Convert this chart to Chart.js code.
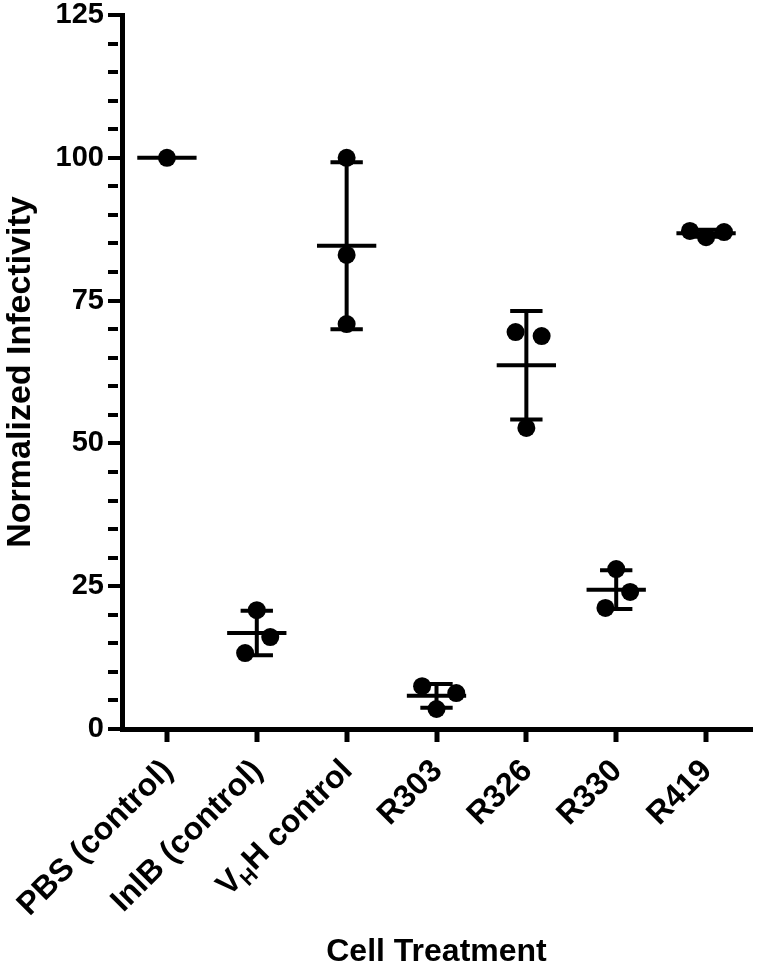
<!DOCTYPE html>
<html lang="en">
<head>
<meta charset="UTF-8">
<title>Normalized Infectivity by Cell Treatment</title>
<script src="https://cdn.jsdelivr.net/npm/chart.js@4"></script>
<style>
  html, body { margin: 0; padding: 0; background: #fff; }
  #wrap { width: 760px; height: 972px; }
</style>
</head>
<body>
<div id="wrap"><canvas id="chart" width="760" height="972"></canvas></div>
<script>
// categories; "_X" marks a subscript letter
const categories = ['PBS (control)', 'InlB (control)', 'V_HH control', 'R303', 'R326', 'R330', 'R419'];

// individual replicate values (normalized infectivity)
const pbs  = [100];
const inlb = [20.8, 16.1, 13.3];
const vhh  = [100, 83.0, 70.9];
const r303 = [7.5, 6.3, 3.5];
const r326 = [69.5, 68.8, 52.7];
const r330 = [28.0, 24.0, 21.2];
const r419 = [87.2, 87.0, 86.1];
const groups = [pbs, inlb, vhh, r303, r326, r330, r419];

// mean and SD per group, as drawn
const means = [100, 16.8, 84.6, 5.8, 63.7, 24.4, 86.8];
const sds   = [0, 3.9, 14.6, 2.1, 9.5, 3.4, 0.6];

// horizontal scatter of the dots (in category units)
const jitter = [[0], [0, 0.15, -0.13], [0, 0, 0], [-0.16, 0.22, 0], [-0.12, 0.17, 0], [0, 0.155, -0.12], [-0.18, 0.2, 0]];

const yMax = 125;
const yMajor = 25;
const yMinor = 5;

const FONT = '"Liberation Sans", Arial, Helvetica, sans-serif';

const points = [];
groups.forEach((vals, i) => {
    vals.forEach((v, j) => points.push({ x: i + jitter[i][j], y: v }));
});

// mean line + SD error bars
const meanBars = {
    id: 'meanBars',
    afterDatasetsDraw(chart) {
        const { ctx, scales: { x, y } } = chart;
        ctx.save();
        ctx.strokeStyle = '#000';
        ctx.lineWidth = 4;
        means.forEach((m, i) => {
            const cx = x.getPixelForValue(i);
            const ym = y.getPixelForValue(m);
            ctx.beginPath();
            ctx.moveTo(x.getPixelForValue(i - 0.33), ym);
            ctx.lineTo(x.getPixelForValue(i + 0.33), ym);
            ctx.stroke();
            if (sds[i] > 0) {
                const yt = y.getPixelForValue(m + sds[i]);
                const yb = y.getPixelForValue(m - sds[i]);
                ctx.beginPath();
                ctx.moveTo(cx, yt);
                ctx.lineTo(cx, yb);
                ctx.moveTo(x.getPixelForValue(i - 0.18), yt);
                ctx.lineTo(x.getPixelForValue(i + 0.18), yt);
                ctx.moveTo(x.getPixelForValue(i - 0.18), yb);
                ctx.lineTo(x.getPixelForValue(i + 0.18), yb);
                ctx.stroke();
            }
        });
        ctx.restore();
    }
};

// rotated category labels with subscript support
const xLabels = {
    id: 'xLabels',
    afterDraw(chart) {
        const { ctx, scales: { x }, chartArea } = chart;
        const size = 32;
        ctx.save();
        ctx.fillStyle = '#000';
        ctx.textBaseline = 'middle';
        ctx.textAlign = 'left';
        categories.forEach((label, i) => {
            const parts = label.split('_');
            const segs = [{ t: parts[0], sub: false }];
            parts.slice(1).forEach(p => {
                segs.push({ t: p[0], sub: true });
                segs.push({ t: p.slice(1), sub: false });
            });
            const fontOf = s => 'bold ' + (s.sub ? Math.round(size * 0.65) : size) + 'px ' + FONT;
            let total = 0;
            segs.forEach(s => {
                ctx.font = fontOf(s);
                s.w = ctx.measureText(s.t).width;
                total += s.w;
            });
            ctx.save();
            ctx.translate(x.getPixelForValue(i) + 1, chartArea.bottom + 37);
            ctx.rotate(-Math.PI / 4);
            let px = -total;
            segs.forEach(s => {
                ctx.font = fontOf(s);
                ctx.fillText(s.t, px, s.sub ? size * 0.3 : 0);
                px += s.w;
            });
            ctx.restore();
        });
        ctx.restore();
    }
};

new Chart(document.getElementById('chart'), {
    type: 'scatter',
    data: {
        datasets: [{
            data: points,
            backgroundColor: '#000',
            borderWidth: 0,
            pointRadius: 9,
            pointHoverRadius: 9
        }]
    },
    options: {
        responsive: false,
        animation: false,
        events: [],
        layout: { padding: { top: 15, right: 5, left: 0, bottom: 0 } },
        plugins: { legend: { display: false }, tooltip: { enabled: false } },
        scales: {
            x: {
                type: 'linear',
                min: -0.5,
                max: categories.length - 0.5,
                afterBuildTicks: s => { s.ticks = categories.map((c, i) => ({ value: i })); },
                afterFit: s => { s.height = 972 - 729; s.paddingLeft = 0; s.paddingRight = 0; },
                ticks: { display: false },
                grid: { drawOnChartArea: false, drawTicks: true, tickLength: 13, tickWidth: 5, tickColor: '#000', color: '#000', lineWidth: 4 },
                border: { display: true, color: '#000', width: 5 },
                title: {
                    display: true,
                    text: 'Cell Treatment',
                    color: '#000',
                    font: { family: FONT, size: 32, weight: 'bold' },
                    padding: { top: 0, bottom: 1 }
                }
            },
            y: {
                min: 0,
                max: yMax,
                afterBuildTicks: s => {
                    const t = [];
                    for (let v = 0; v <= yMax; v += yMinor) t.push({ value: v });
                    s.ticks = t;
                },
                afterFit: s => { s.width = 122; s.paddingTop = 0; s.paddingBottom = 0; },
                ticks: {
                    autoSkip: false,
                    padding: 4,
                    color: '#000',
                    font: { family: FONT, size: 29, weight: 'bold' },
                    callback: v => (v % yMajor === 0 ? String(v) : '')
                },
                grid: {
                    drawOnChartArea: false,
                    drawTicks: true,
                    tickLength: 14,
                    tickWidth: 4,
                    tickColor: '#000',
                    color: '#000',
                    lineWidth: 4,
                    tickBorderDash: ctx => (ctx.tick && ctx.tick.value % yMajor === 0 ? [] : [10, 40])
                },
                border: { display: true, color: '#000', width: 5 },
                title: {
                    display: true,
                    text: 'Normalized Infectivity',
                    color: '#000',
                    font: { family: FONT, size: 34, weight: 'bold' },
                    padding: { top: 0, bottom: 0 }
                }
            }
        }
    },
    plugins: [meanBars, xLabels]
});
</script>
</body>
</html>
